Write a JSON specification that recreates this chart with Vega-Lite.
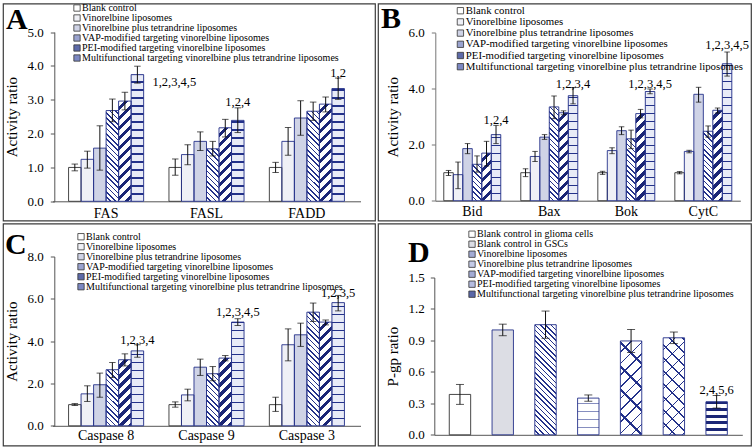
{
"$schema":"https://vega.github.io/schema/vega-lite/v6.json",
"padding":{"left":2,"top":1.5,"right":0,"bottom":0},
"params":[
{"name":"P1","value":[{"offset":0,"color":"transparent"},{"offset":0.028,"color":"transparent"},{"offset":0.028,"color":"#23318a"},{"offset":0.04,"color":"#23318a"},{"offset":0.04,"color":"transparent"},{"offset":0.068,"color":"transparent"},{"offset":0.068,"color":"#23318a"},{"offset":0.08,"color":"#23318a"},{"offset":0.08,"color":"transparent"},{"offset":0.108,"color":"transparent"},{"offset":0.108,"color":"#23318a"},{"offset":0.12,"color":"#23318a"},{"offset":0.12,"color":"transparent"},{"offset":0.148,"color":"transparent"},{"offset":0.148,"color":"#23318a"},{"offset":0.16,"color":"#23318a"},{"offset":0.16,"color":"transparent"},{"offset":0.188,"color":"transparent"},{"offset":0.188,"color":"#23318a"},{"offset":0.2,"color":"#23318a"},{"offset":0.2,"color":"transparent"},{"offset":0.228,"color":"transparent"},{"offset":0.228,"color":"#23318a"},{"offset":0.24,"color":"#23318a"},{"offset":0.24,"color":"transparent"},{"offset":0.268,"color":"transparent"},{"offset":0.268,"color":"#23318a"},{"offset":0.28,"color":"#23318a"},{"offset":0.28,"color":"transparent"},{"offset":0.308,"color":"transparent"},{"offset":0.308,"color":"#23318a"},{"offset":0.32,"color":"#23318a"},{"offset":0.32,"color":"transparent"},{"offset":0.348,"color":"transparent"},{"offset":0.348,"color":"#23318a"},{"offset":0.36,"color":"#23318a"},{"offset":0.36,"color":"transparent"},{"offset":0.388,"color":"transparent"},{"offset":0.388,"color":"#23318a"},{"offset":0.4,"color":"#23318a"},{"offset":0.4,"color":"transparent"},{"offset":0.428,"color":"transparent"},{"offset":0.428,"color":"#23318a"},{"offset":0.44,"color":"#23318a"},{"offset":0.44,"color":"transparent"},{"offset":0.468,"color":"transparent"},{"offset":0.468,"color":"#23318a"},{"offset":0.48,"color":"#23318a"},{"offset":0.48,"color":"transparent"},{"offset":0.508,"color":"transparent"},{"offset":0.508,"color":"#23318a"},{"offset":0.52,"color":"#23318a"},{"offset":0.52,"color":"transparent"},{"offset":0.548,"color":"transparent"},{"offset":0.548,"color":"#23318a"},{"offset":0.56,"color":"#23318a"},{"offset":0.56,"color":"transparent"},{"offset":0.588,"color":"transparent"},{"offset":0.588,"color":"#23318a"},{"offset":0.6,"color":"#23318a"},{"offset":0.6,"color":"transparent"},{"offset":0.628,"color":"transparent"},{"offset":0.628,"color":"#23318a"},{"offset":0.64,"color":"#23318a"},{"offset":0.64,"color":"transparent"},{"offset":0.668,"color":"transparent"},{"offset":0.668,"color":"#23318a"},{"offset":0.68,"color":"#23318a"},{"offset":0.68,"color":"transparent"},{"offset":0.708,"color":"transparent"},{"offset":0.708,"color":"#23318a"},{"offset":0.72,"color":"#23318a"},{"offset":0.72,"color":"transparent"},{"offset":0.748,"color":"transparent"},{"offset":0.748,"color":"#23318a"},{"offset":0.76,"color":"#23318a"},{"offset":0.76,"color":"transparent"},{"offset":0.788,"color":"transparent"},{"offset":0.788,"color":"#23318a"},{"offset":0.8,"color":"#23318a"},{"offset":0.8,"color":"transparent"},{"offset":0.828,"color":"transparent"},{"offset":0.828,"color":"#23318a"},{"offset":0.84,"color":"#23318a"},{"offset":0.84,"color":"transparent"},{"offset":0.868,"color":"transparent"},{"offset":0.868,"color":"#23318a"},{"offset":0.88,"color":"#23318a"},{"offset":0.88,"color":"transparent"},{"offset":0.908,"color":"transparent"},{"offset":0.908,"color":"#23318a"},{"offset":0.92,"color":"#23318a"},{"offset":0.92,"color":"transparent"},{"offset":0.948,"color":"transparent"},{"offset":0.948,"color":"#23318a"},{"offset":0.96,"color":"#23318a"},{"offset":0.96,"color":"transparent"},{"offset":0.988,"color":"transparent"},{"offset":0.988,"color":"#23318a"},{"offset":1,"color":"#23318a"},{"offset":1,"color":"transparent"}]},
{"name":"P2","value":[{"offset":0,"color":"transparent"},{"offset":0.0344,"color":"transparent"},{"offset":0.0344,"color":"#1b2676"},{"offset":0.0625,"color":"#1b2676"},{"offset":0.0625,"color":"transparent"},{"offset":0.0969,"color":"transparent"},{"offset":0.0969,"color":"#1b2676"},{"offset":0.125,"color":"#1b2676"},{"offset":0.125,"color":"transparent"},{"offset":0.1594,"color":"transparent"},{"offset":0.1594,"color":"#1b2676"},{"offset":0.1875,"color":"#1b2676"},{"offset":0.1875,"color":"transparent"},{"offset":0.2219,"color":"transparent"},{"offset":0.2219,"color":"#1b2676"},{"offset":0.25,"color":"#1b2676"},{"offset":0.25,"color":"transparent"},{"offset":0.2844,"color":"transparent"},{"offset":0.2844,"color":"#1b2676"},{"offset":0.3125,"color":"#1b2676"},{"offset":0.3125,"color":"transparent"},{"offset":0.3469,"color":"transparent"},{"offset":0.3469,"color":"#1b2676"},{"offset":0.375,"color":"#1b2676"},{"offset":0.375,"color":"transparent"},{"offset":0.4094,"color":"transparent"},{"offset":0.4094,"color":"#1b2676"},{"offset":0.4375,"color":"#1b2676"},{"offset":0.4375,"color":"transparent"},{"offset":0.4719,"color":"transparent"},{"offset":0.4719,"color":"#1b2676"},{"offset":0.5,"color":"#1b2676"},{"offset":0.5,"color":"transparent"},{"offset":0.5344,"color":"transparent"},{"offset":0.5344,"color":"#1b2676"},{"offset":0.5625,"color":"#1b2676"},{"offset":0.5625,"color":"transparent"},{"offset":0.5969,"color":"transparent"},{"offset":0.5969,"color":"#1b2676"},{"offset":0.625,"color":"#1b2676"},{"offset":0.625,"color":"transparent"},{"offset":0.6594,"color":"transparent"},{"offset":0.6594,"color":"#1b2676"},{"offset":0.6875,"color":"#1b2676"},{"offset":0.6875,"color":"transparent"},{"offset":0.7219,"color":"transparent"},{"offset":0.7219,"color":"#1b2676"},{"offset":0.75,"color":"#1b2676"},{"offset":0.75,"color":"transparent"},{"offset":0.7844,"color":"transparent"},{"offset":0.7844,"color":"#1b2676"},{"offset":0.8125,"color":"#1b2676"},{"offset":0.8125,"color":"transparent"},{"offset":0.8469,"color":"transparent"},{"offset":0.8469,"color":"#1b2676"},{"offset":0.875,"color":"#1b2676"},{"offset":0.875,"color":"transparent"},{"offset":0.9094,"color":"transparent"},{"offset":0.9094,"color":"#1b2676"},{"offset":0.9375,"color":"#1b2676"},{"offset":0.9375,"color":"transparent"},{"offset":0.9719,"color":"transparent"},{"offset":0.9719,"color":"#1b2676"},{"offset":1,"color":"#1b2676"},{"offset":1,"color":"transparent"}]},
{"name":"P3","value":[{"offset":0,"color":"transparent"},{"offset":0.04,"color":"transparent"},{"offset":0.04,"color":"#23318a"},{"offset":0.05,"color":"#23318a"},{"offset":0.05,"color":"transparent"},{"offset":0.09,"color":"transparent"},{"offset":0.09,"color":"#23318a"},{"offset":0.1,"color":"#23318a"},{"offset":0.1,"color":"transparent"},{"offset":0.14,"color":"transparent"},{"offset":0.14,"color":"#23318a"},{"offset":0.15,"color":"#23318a"},{"offset":0.15,"color":"transparent"},{"offset":0.19,"color":"transparent"},{"offset":0.19,"color":"#23318a"},{"offset":0.2,"color":"#23318a"},{"offset":0.2,"color":"transparent"},{"offset":0.24,"color":"transparent"},{"offset":0.24,"color":"#23318a"},{"offset":0.25,"color":"#23318a"},{"offset":0.25,"color":"transparent"},{"offset":0.29,"color":"transparent"},{"offset":0.29,"color":"#23318a"},{"offset":0.3,"color":"#23318a"},{"offset":0.3,"color":"transparent"},{"offset":0.34,"color":"transparent"},{"offset":0.34,"color":"#23318a"},{"offset":0.35,"color":"#23318a"},{"offset":0.35,"color":"transparent"},{"offset":0.39,"color":"transparent"},{"offset":0.39,"color":"#23318a"},{"offset":0.4,"color":"#23318a"},{"offset":0.4,"color":"transparent"},{"offset":0.44,"color":"transparent"},{"offset":0.44,"color":"#23318a"},{"offset":0.45,"color":"#23318a"},{"offset":0.45,"color":"transparent"},{"offset":0.49,"color":"transparent"},{"offset":0.49,"color":"#23318a"},{"offset":0.5,"color":"#23318a"},{"offset":0.5,"color":"transparent"},{"offset":0.54,"color":"transparent"},{"offset":0.54,"color":"#23318a"},{"offset":0.55,"color":"#23318a"},{"offset":0.55,"color":"transparent"},{"offset":0.59,"color":"transparent"},{"offset":0.59,"color":"#23318a"},{"offset":0.6,"color":"#23318a"},{"offset":0.6,"color":"transparent"},{"offset":0.64,"color":"transparent"},{"offset":0.64,"color":"#23318a"},{"offset":0.65,"color":"#23318a"},{"offset":0.65,"color":"transparent"},{"offset":0.69,"color":"transparent"},{"offset":0.69,"color":"#23318a"},{"offset":0.7,"color":"#23318a"},{"offset":0.7,"color":"transparent"},{"offset":0.74,"color":"transparent"},{"offset":0.74,"color":"#23318a"},{"offset":0.75,"color":"#23318a"},{"offset":0.75,"color":"transparent"},{"offset":0.79,"color":"transparent"},{"offset":0.79,"color":"#23318a"},{"offset":0.8,"color":"#23318a"},{"offset":0.8,"color":"transparent"},{"offset":0.84,"color":"transparent"},{"offset":0.84,"color":"#23318a"},{"offset":0.85,"color":"#23318a"},{"offset":0.85,"color":"transparent"},{"offset":0.89,"color":"transparent"},{"offset":0.89,"color":"#23318a"},{"offset":0.9,"color":"#23318a"},{"offset":0.9,"color":"transparent"},{"offset":0.94,"color":"transparent"},{"offset":0.94,"color":"#23318a"},{"offset":0.95,"color":"#23318a"},{"offset":0.95,"color":"transparent"},{"offset":0.99,"color":"transparent"},{"offset":0.99,"color":"#23318a"},{"offset":1,"color":"#23318a"},{"offset":1,"color":"transparent"}]},
{"name":"P6","value":[{"offset":0,"color":"transparent"},{"offset":0.087,"color":"transparent"},{"offset":0.087,"color":"#23318a"},{"offset":0.1,"color":"#23318a"},{"offset":0.1,"color":"transparent"},{"offset":0.187,"color":"transparent"},{"offset":0.187,"color":"#23318a"},{"offset":0.2,"color":"#23318a"},{"offset":0.2,"color":"transparent"},{"offset":0.287,"color":"transparent"},{"offset":0.287,"color":"#23318a"},{"offset":0.3,"color":"#23318a"},{"offset":0.3,"color":"transparent"},{"offset":0.387,"color":"transparent"},{"offset":0.387,"color":"#23318a"},{"offset":0.4,"color":"#23318a"},{"offset":0.4,"color":"transparent"},{"offset":0.487,"color":"transparent"},{"offset":0.487,"color":"#23318a"},{"offset":0.5,"color":"#23318a"},{"offset":0.5,"color":"transparent"},{"offset":0.587,"color":"transparent"},{"offset":0.587,"color":"#23318a"},{"offset":0.6,"color":"#23318a"},{"offset":0.6,"color":"transparent"},{"offset":0.687,"color":"transparent"},{"offset":0.687,"color":"#23318a"},{"offset":0.7,"color":"#23318a"},{"offset":0.7,"color":"transparent"},{"offset":0.787,"color":"transparent"},{"offset":0.787,"color":"#23318a"},{"offset":0.8,"color":"#23318a"},{"offset":0.8,"color":"transparent"},{"offset":0.887,"color":"transparent"},{"offset":0.887,"color":"#23318a"},{"offset":0.9,"color":"#23318a"},{"offset":0.9,"color":"transparent"},{"offset":0.987,"color":"transparent"},{"offset":0.987,"color":"#23318a"},{"offset":1,"color":"#23318a"},{"offset":1,"color":"transparent"}]}
],
"datasets":{
"A":[
{"g":"FAS","k":1,"s":"Blank control","v":1.0,"lo":0.9,"hi":1.1},
{"g":"FAS","k":2,"s":"Vinorelbine liposomes","v":1.24,"lo":0.98,"hi":1.48},
{"g":"FAS","k":3,"s":"Vinorelbine plus tetrandrine liposomes","v":1.57,"lo":0.92,"hi":2.23},
{"g":"FAS","k":4,"s":"VAP-modified targeting vinorelbine liposomes","v":2.68,"lo":2.35,"hi":3.02},
{"g":"FAS","k":5,"s":"PEI-modified targeting vinorelbine liposomes","v":2.96,"lo":2.7,"hi":3.22},
{"g":"FAS","k":6,"s":"Multifunctional targeting vinorelbine plus tetrandrine liposomes","v":3.74,"lo":3.49,"hi":3.99},
{"g":"FASL","k":1,"s":"Blank control","v":1.0,"lo":0.77,"hi":1.25},
{"g":"FASL","k":2,"s":"Vinorelbine liposomes","v":1.38,"lo":1.08,"hi":1.67},
{"g":"FASL","k":3,"s":"Vinorelbine plus tetrandrine liposomes","v":1.77,"lo":1.5,"hi":2.05},
{"g":"FASL","k":4,"s":"VAP-modified targeting vinorelbine liposomes","v":1.55,"lo":1.34,"hi":1.77},
{"g":"FASL","k":5,"s":"PEI-modified targeting vinorelbine liposomes","v":2.17,"lo":1.9,"hi":2.42},
{"g":"FASL","k":6,"s":"Multifunctional targeting vinorelbine plus tetrandrine liposomes","v":2.39,"lo":2.03,"hi":2.76},
{"g":"FADD","k":1,"s":"Blank control","v":1.0,"lo":0.85,"hi":1.15},
{"g":"FADD","k":2,"s":"Vinorelbine liposomes","v":1.77,"lo":1.36,"hi":2.18},
{"g":"FADD","k":3,"s":"Vinorelbine plus tetrandrine liposomes","v":2.46,"lo":1.95,"hi":2.97},
{"g":"FADD","k":4,"s":"VAP-modified targeting vinorelbine liposomes","v":2.66,"lo":2.39,"hi":2.93},
{"g":"FADD","k":5,"s":"PEI-modified targeting vinorelbine liposomes","v":2.87,"lo":2.64,"hi":3.08},
{"g":"FADD","k":6,"s":"Multifunctional targeting vinorelbine plus tetrandrine liposomes","v":3.33,"lo":3.01,"hi":3.64}
],
"B":[
{"g":"Bid","k":1,"s":"Blank control","v":1.0,"lo":0.9,"hi":1.08},
{"g":"Bid","k":2,"s":"Vinorelbine liposomes","v":0.93,"lo":0.43,"hi":1.38},
{"g":"Bid","k":3,"s":"Vinorelbine plus tetrandrine liposomes","v":1.86,"lo":1.68,"hi":2.04},
{"g":"Bid","k":4,"s":"VAP-modified targeting vinorelbine liposomes","v":1.3,"lo":1.02,"hi":1.6},
{"g":"Bid","k":5,"s":"PEI-modified targeting vinorelbine liposomes","v":1.7,"lo":1.24,"hi":2.12},
{"g":"Bid","k":6,"s":"Multifunctional targeting vinorelbine plus tetrandrine liposomes","v":2.36,"lo":2.04,"hi":2.69},
{"g":"Bax","k":1,"s":"Blank control","v":1.0,"lo":0.86,"hi":1.14},
{"g":"Bax","k":2,"s":"Vinorelbine liposomes","v":1.58,"lo":1.4,"hi":1.76},
{"g":"Bax","k":3,"s":"Vinorelbine plus tetrandrine liposomes","v":2.27,"lo":2.19,"hi":2.36},
{"g":"Bax","k":4,"s":"VAP-modified targeting vinorelbine liposomes","v":3.35,"lo":2.93,"hi":3.74},
{"g":"Bax","k":5,"s":"PEI-modified targeting vinorelbine liposomes","v":3.14,"lo":3.07,"hi":3.21},
{"g":"Bax","k":6,"s":"Multifunctional targeting vinorelbine plus tetrandrine liposomes","v":3.75,"lo":3.46,"hi":4.04},
{"g":"Bok","k":1,"s":"Blank control","v":1.0,"lo":0.94,"hi":1.05},
{"g":"Bok","k":2,"s":"Vinorelbine liposomes","v":1.79,"lo":1.68,"hi":1.89},
{"g":"Bok","k":3,"s":"Vinorelbine plus tetrandrine liposomes","v":2.5,"lo":2.36,"hi":2.64},
{"g":"Bok","k":4,"s":"VAP-modified targeting vinorelbine liposomes","v":2.21,"lo":1.86,"hi":2.52},
{"g":"Bok","k":5,"s":"PEI-modified targeting vinorelbine liposomes","v":3.11,"lo":2.96,"hi":3.26},
{"g":"Bok","k":6,"s":"Multifunctional targeting vinorelbine plus tetrandrine liposomes","v":3.9,"lo":3.82,"hi":3.99},
{"g":"CytC","k":1,"s":"Blank control","v":1.0,"lo":0.96,"hi":1.04},
{"g":"CytC","k":2,"s":"Vinorelbine liposomes","v":1.76,"lo":1.71,"hi":1.8},
{"g":"CytC","k":3,"s":"Vinorelbine plus tetrandrine liposomes","v":3.8,"lo":3.52,"hi":4.05},
{"g":"CytC","k":4,"s":"VAP-modified targeting vinorelbine liposomes","v":2.48,"lo":2.27,"hi":2.67},
{"g":"CytC","k":5,"s":"PEI-modified targeting vinorelbine liposomes","v":3.23,"lo":3.13,"hi":3.31},
{"g":"CytC","k":6,"s":"Multifunctional targeting vinorelbine plus tetrandrine liposomes","v":4.89,"lo":4.45,"hi":5.31}
],
"C":[
{"g":"Caspase 8","k":1,"s":"Blank control","v":1.0,"lo":0.96,"hi":1.05},
{"g":"Caspase 8","k":2,"s":"Vinorelbine liposomes","v":1.51,"lo":1.15,"hi":1.89},
{"g":"Caspase 8","k":3,"s":"Vinorelbine plus tetrandrine liposomes","v":1.94,"lo":1.35,"hi":2.49},
{"g":"Caspase 8","k":4,"s":"VAP-modified targeting vinorelbine liposomes","v":2.65,"lo":2.28,"hi":2.99},
{"g":"Caspase 8","k":5,"s":"PEI-modified targeting vinorelbine liposomes","v":3.12,"lo":2.83,"hi":3.4},
{"g":"Caspase 8","k":6,"s":"Multifunctional targeting vinorelbine plus tetrandrine liposomes","v":3.54,"lo":3.24,"hi":3.83},
{"g":"Caspase 9","k":1,"s":"Blank control","v":1.0,"lo":0.88,"hi":1.13},
{"g":"Caspase 9","k":2,"s":"Vinorelbine liposomes","v":1.46,"lo":1.18,"hi":1.73},
{"g":"Caspase 9","k":3,"s":"Vinorelbine plus tetrandrine liposomes","v":2.77,"lo":2.38,"hi":3.15},
{"g":"Caspase 9","k":4,"s":"VAP-modified targeting vinorelbine liposomes","v":2.46,"lo":2.13,"hi":2.8},
{"g":"Caspase 9","k":5,"s":"PEI-modified targeting vinorelbine liposomes","v":3.2,"lo":3.07,"hi":3.32},
{"g":"Caspase 9","k":6,"s":"Multifunctional targeting vinorelbine plus tetrandrine liposomes","v":4.9,"lo":4.74,"hi":5.06},
{"g":"Caspase 3","k":1,"s":"Blank control","v":1.0,"lo":0.68,"hi":1.35},
{"g":"Caspase 3","k":2,"s":"Vinorelbine liposomes","v":3.83,"lo":3.07,"hi":4.58},
{"g":"Caspase 3","k":3,"s":"Vinorelbine plus tetrandrine liposomes","v":4.3,"lo":3.75,"hi":4.85},
{"g":"Caspase 3","k":4,"s":"VAP-modified targeting vinorelbine liposomes","v":5.37,"lo":4.93,"hi":5.8},
{"g":"Caspase 3","k":5,"s":"PEI-modified targeting vinorelbine liposomes","v":4.9,"lo":4.77,"hi":5.0},
{"g":"Caspase 3","k":6,"s":"Multifunctional targeting vinorelbine plus tetrandrine liposomes","v":5.82,"lo":5.43,"hi":6.16}
],
"D":[
{"k":1,"s":"Blank control in glioma cells","v":0.385,"lo":0.29,"hi":0.48},
{"k":2,"s":"Blank control in GSCs","v":1.0,"lo":0.945,"hi":1.055},
{"k":3,"s":"Vinorelbine liposomes","v":1.05,"lo":0.92,"hi":1.18},
{"k":4,"s":"Vinorelbine plus tetrandrine liposomes","v":0.35,"lo":0.32,"hi":0.38},
{"k":5,"s":"VAP-modified targeting vinorelbine liposomes","v":0.895,"lo":0.785,"hi":1.005},
{"k":6,"s":"PEI-modified targeting vinorelbine liposomes","v":0.925,"lo":0.87,"hi":0.98},
{"k":7,"s":"Multifunctional targeting vinorelbine plus tetrandrine liposomes","v":0.315,"lo":0.255,"hi":0.375}
]
},
"spacing":1,
"resolve":{"scale":{"fill":"independent","xOffset":"independent"},"legend":{"fill":"independent"}},
"vconcat":[
{"hconcat":[
{
"width":372,"height":217,
"data":{"name":"A"},
"encoding":{
"x":{"field":"g","type":"nominal","sort":["FAS","FASL","FADD"],"scale":{"domain":["FAS","FASL","FADD"],"range":[49.5,357.5],"paddingInner":0.252,"paddingOuter":0.16},"axis":{"title":null,"labelAngle":0,"labelFont":"Liberation Serif","labelFontSize":14,"labelColor":"#000","labelPadding":5,"ticks":false,"tickSize":0,"domainColor":"#555","offset":-19.2}},
"xOffset":{"field":"s","type":"nominal","scale":{"domain":["Blank control","Vinorelbine liposomes","Vinorelbine plus tetrandrine liposomes","VAP-modified targeting vinorelbine liposomes","PEI-modified targeting vinorelbine liposomes","Multifunctional targeting vinorelbine plus tetrandrine liposomes"],"paddingInner":0,"paddingOuter":0}},
"y":{"field":"v","type":"quantitative","scale":{"domain":[0,5],"range":[197.8,28.5],"nice":false},"axis":{"title":"Activity ratio","values":[0,1,2,3,4,5],"format":".1f","labelFont":"Liberation Serif","labelFontSize":13,"labelColor":"#000","labelPadding":7,"tickSize":4,"tickColor":"#555","domainColor":"#555","titleFont":"Liberation Serif","titleFontSize":15,"titleFontWeight":"normal","titleColor":"#000","titlePadding":8,"grid":false,"offset":-51.3}}
},
"layer":[
{"mark":{"type":"bar","strokeWidth":0},"encoding":{"fill":{"field":"s","type":"nominal","scale":{"domain":["Blank control","Vinorelbine liposomes","Vinorelbine plus tetrandrine liposomes","VAP-modified targeting vinorelbine liposomes","PEI-modified targeting vinorelbine liposomes","Multifunctional targeting vinorelbine plus tetrandrine liposomes"],"range":["#ffffff","#eff0f6","#cfd3e6","#9aa3cf","#5d6aa8","#7c88c2"]},"legend":{"orient":"none","legendX":69,"legendY":-0.5,"title":null,"symbolType":"square","symbolSize":40,"symbolStrokeColor":"#333","symbolStrokeWidth":0.8,"labelFont":"Liberation Serif","labelFontSize":10,"labelColor":"#000","labelLimit":400,"labelOffset":0,"rowPadding":0,"padding":0}}}},
{"transform":[{"filter":"datum.k>=4"}],"mark":{"type":"bar","strokeWidth":0},"encoding":{"fill":{"condition":{"test":"datum.k==6","value":"#e8ebf7"},"value":"#ffffff"}}},
{"transform":[{"filter":"datum.k==4"}],"mark":{"type":"bar","strokeWidth":0,"fill":{"expr":"{gradient:'linear',x1:0,y1:1,x2:1650/(156.25+pow(datum.v*33.86,2)),y2:1-132*datum.v*33.86/(156.25+pow(datum.v*33.86,2)),stops:P1}"}}},
{"transform":[{"filter":"datum.k==5"}],"mark":{"type":"bar","strokeWidth":0,"fill":{"expr":"{gradient:'linear',x1:0,y1:0,x2:2000/(156.25+pow(datum.v*33.86,2)),y2:160*datum.v*33.86/(156.25+pow(datum.v*33.86,2)),stops:P2}"}}},
{"transform":[{"filter":"datum.k==6"}],"mark":{"type":"bar","strokeWidth":0,"fill":{"expr":"{gradient:'linear',x1:0,y1:1,x2:0,y2:1-160/(datum.v*33.86),stops:P3}"}}},
{"mark":{"type":"bar","fillOpacity":0,"strokeWidth":0.9},"encoding":{"stroke":{"condition":{"test":"datum.k==1","value":"#333333"},"value":"#26328a"}}},
{"mark":{"type":"rule","color":"#111","strokeWidth":1},"encoding":{"y":{"field":"lo","type":"quantitative"},"y2":{"field":"hi"}}},
{"mark":{"type":"tick","color":"#111","thickness":1,"size":6.5},"encoding":{"y":{"field":"lo","type":"quantitative"}}},
{"mark":{"type":"tick","color":"#111","thickness":1,"size":6.5},"encoding":{"y":{"field":"hi","type":"quantitative"}}},
{"data":{"values":[{"g":"FASL","s":"Multifunctional targeting vinorelbine plus tetrandrine liposomes","t":"1,2,4","ty":2.94},{"g":"FADD","s":"Multifunctional targeting vinorelbine plus tetrandrine liposomes","t":"1,2","ty":3.8}]},"mark":{"type":"text","font":"Liberation Serif","fontSize":12.5,"baseline":"middle","align":"center","color":"#000"},"encoding":{"y":{"field":"ty","type":"quantitative"},"text":{"field":"t"}}},
{"data":{"values":[{"g":"FAS","s":"Multifunctional targeting vinorelbine plus tetrandrine liposomes","t":"1,2,3,4,5","ty":3.53}]},"mark":{"type":"text","font":"Liberation Serif","fontSize":12.5,"baseline":"middle","align":"left","dx":15,"color":"#000"},"encoding":{"y":{"field":"ty","type":"quantitative"},"text":{"field":"t"}}},
{"data":{"values":[{"g":"FAS","s":"Blank control","t":"A","ty":5.1}]},"mark":{"type":"text","font":"Liberation Serif","fontSize":30,"fontWeight":"bold","baseline":"alphabetic","align":"left","dx":-68.8,"color":"#000"},"encoding":{"y":{"field":"ty","type":"quantitative"},"text":{"field":"t"}}}
]
},
{
"width":373,"height":217,
"data":{"name":"B"},
"encoding":{
"x":{"field":"g","type":"nominal","sort":["Bid","Bax","Bok","CytC"],"scale":{"domain":["Bid","Bax","Bok","CytC"],"range":[57.3,362.3],"paddingInner":0.26,"paddingOuter":0.11},"axis":{"title":null,"labelAngle":0,"labelFont":"Liberation Serif","labelFontSize":14,"labelColor":"#000","labelPadding":4,"ticks":false,"tickSize":0,"domainColor":"#555","offset":-19.8}},
"xOffset":{"field":"s","type":"nominal","scale":{"domain":["Blank control","Vinorelbine liposomes","Vinorelbine plus tetrandrine liposomes","VAP-modified targeting vinorelbine liposomes","PEI-modified targeting vinorelbine liposomes","Multifunctional targeting vinorelbine plus tetrandrine liposomes"],"paddingInner":0,"paddingOuter":0}},
"y":{"field":"v","type":"quantitative","scale":{"domain":[0,6],"range":[197.2,29.2],"nice":false},"axis":{"title":"Activity ratio","values":[0,2,4,6],"format":".1f","labelFont":"Liberation Serif","labelFontSize":13,"labelColor":"#000","labelPadding":7,"tickSize":4,"tickColor":"#777","domainColor":"#777","titleFont":"Liberation Serif","titleFontSize":15,"titleFontWeight":"normal","titleColor":"#000","titlePadding":8,"grid":false,"offset":-57.3}}
},
"layer":[
{"mark":{"type":"bar","strokeWidth":0},"encoding":{"fill":{"field":"s","type":"nominal","scale":{"domain":["Blank control","Vinorelbine liposomes","Vinorelbine plus tetrandrine liposomes","VAP-modified targeting vinorelbine liposomes","PEI-modified targeting vinorelbine liposomes","Multifunctional targeting vinorelbine plus tetrandrine liposomes"],"range":["#ffffff","#eff0f6","#cfd3e6","#9aa3cf","#5d6aa8","#7c88c2"]},"legend":{"orient":"none","legendX":77,"legendY":1.8,"title":null,"symbolType":"square","symbolSize":40,"symbolStrokeColor":"#333","symbolStrokeWidth":0.8,"labelFont":"Liberation Serif","labelFontSize":10.8,"labelColor":"#000","labelLimit":400,"labelOffset":0,"rowPadding":-0.8,"padding":0}}}},
{"transform":[{"filter":"datum.k>=4"}],"mark":{"type":"bar","strokeWidth":0},"encoding":{"fill":{"condition":{"test":"datum.k==6","value":"#e8ebf7"},"value":"#ffffff"}}},
{"transform":[{"filter":"datum.k==4"}],"mark":{"type":"bar","strokeWidth":0,"fill":{"expr":"{gradient:'linear',x1:0,y1:1,x2:1254/(90.25+pow(datum.v*28,2)),y2:1-132*datum.v*28/(90.25+pow(datum.v*28,2)),stops:P1}"}}},
{"transform":[{"filter":"datum.k==5"}],"mark":{"type":"bar","strokeWidth":0,"fill":{"expr":"{gradient:'linear',x1:0,y1:0,x2:1520/(90.25+pow(datum.v*28,2)),y2:160*datum.v*28/(90.25+pow(datum.v*28,2)),stops:P2}"}}},
{"transform":[{"filter":"datum.k==6"}],"mark":{"type":"bar","strokeWidth":0,"fill":{"expr":"{gradient:'linear',x1:0,y1:1,x2:0,y2:1-160/(datum.v*28),stops:P3}"}}},
{"mark":{"type":"bar","fillOpacity":0,"strokeWidth":0.9},"encoding":{"stroke":{"condition":{"test":"datum.k==1","value":"#333333"},"value":"#26328a"}}},
{"mark":{"type":"rule","color":"#111","strokeWidth":1},"encoding":{"y":{"field":"lo","type":"quantitative"},"y2":{"field":"hi"}}},
{"mark":{"type":"tick","color":"#111","thickness":1,"size":5.5},"encoding":{"y":{"field":"lo","type":"quantitative"}}},
{"mark":{"type":"tick","color":"#111","thickness":1,"size":5.5},"encoding":{"y":{"field":"hi","type":"quantitative"}}},
{"data":{"values":[{"g":"Bid","s":"Multifunctional targeting vinorelbine plus tetrandrine liposomes","t":"1,2,4","ty":2.87},{"g":"Bax","s":"Multifunctional targeting vinorelbine plus tetrandrine liposomes","t":"1,2,3,4","ty":4.18},{"g":"Bok","s":"Multifunctional targeting vinorelbine plus tetrandrine liposomes","t":"1,2,3,4,5","ty":4.18},{"g":"CytC","s":"Multifunctional targeting vinorelbine plus tetrandrine liposomes","t":"1,2,3,4,5","ty":5.55}]},"mark":{"type":"text","font":"Liberation Serif","fontSize":12.5,"baseline":"middle","align":"center","color":"#000"},"encoding":{"y":{"field":"ty","type":"quantitative"},"text":{"field":"t"}}},
{"data":{"values":[{"g":"Bid","s":"Blank control","t":"B","ty":6.17}]},"mark":{"type":"text","font":"Liberation Serif","fontSize":30,"fontWeight":"bold","baseline":"alphabetic","align":"left","dx":-67.5,"color":"#000"},"encoding":{"y":{"field":"ty","type":"quantitative"},"text":{"field":"t"}}}
]
}
],"spacing":3,"bounds":"flush","resolve":{"scale":{"fill":"independent","xOffset":"independent"},"legend":{"fill":"independent"}}},
{"hconcat":[
{
"width":372,"height":222,
"data":{"name":"C"},
"encoding":{
"x":{"field":"g","type":"nominal","sort":["Caspase 8","Caspase 9","Caspase 3"],"scale":{"domain":["Caspase 8","Caspase 9","Caspase 3"],"range":[49.5,357.5],"paddingInner":0.252,"paddingOuter":0.16},"axis":{"title":null,"labelAngle":0,"labelFont":"Liberation Serif","labelFontSize":14,"labelColor":"#000","labelPadding":3,"ticks":false,"tickSize":0,"domainColor":"#555","offset":-19.7}},
"xOffset":{"field":"s","type":"nominal","scale":{"domain":["Blank control","Vinorelbine liposomes","Vinorelbine plus tetrandrine liposomes","VAP-modified targeting vinorelbine liposomes","PEI-modified targeting vinorelbine liposomes","Multifunctional targeting vinorelbine plus tetrandrine liposomes"],"paddingInner":0,"paddingOuter":0}},
"y":{"field":"v","type":"quantitative","scale":{"domain":[0,8],"range":[202.3,33],"nice":false},"axis":{"title":"Activity ratio","values":[0,2,4,6,8],"format":".1f","labelFont":"Liberation Serif","labelFontSize":13,"labelColor":"#000","labelPadding":7,"tickSize":4,"tickColor":"#555","domainColor":"#555","titleFont":"Liberation Serif","titleFontSize":15,"titleFontWeight":"normal","titleColor":"#000","titlePadding":8,"grid":false,"offset":-51.3}}
},
"layer":[
{"mark":{"type":"bar","strokeWidth":0},"encoding":{"fill":{"field":"s","type":"nominal","scale":{"domain":["Blank control","Vinorelbine liposomes","Vinorelbine plus tetrandrine liposomes","VAP-modified targeting vinorelbine liposomes","PEI-modified targeting vinorelbine liposomes","Multifunctional targeting vinorelbine plus tetrandrine liposomes"],"range":["#ffffff","#eff0f6","#cfd3e6","#9aa3cf","#5d6aa8","#7c88c2"]},"legend":{"orient":"none","legendX":73,"legendY":8.2,"title":null,"symbolType":"square","symbolSize":40,"symbolStrokeColor":"#333","symbolStrokeWidth":0.8,"labelFont":"Liberation Serif","labelFontSize":10,"labelColor":"#000","labelLimit":400,"labelOffset":0,"rowPadding":-0.5,"padding":0}}}},
{"transform":[{"filter":"datum.k>=4"}],"mark":{"type":"bar","strokeWidth":0},"encoding":{"fill":{"condition":{"test":"datum.k==6","value":"#e8ebf7"},"value":"#ffffff"}}},
{"transform":[{"filter":"datum.k==4"}],"mark":{"type":"bar","strokeWidth":0,"fill":{"expr":"{gradient:'linear',x1:0,y1:1,x2:1650/(156.25+pow(datum.v*21.16,2)),y2:1-132*datum.v*21.16/(156.25+pow(datum.v*21.16,2)),stops:P1}"}}},
{"transform":[{"filter":"datum.k==5"}],"mark":{"type":"bar","strokeWidth":0,"fill":{"expr":"{gradient:'linear',x1:0,y1:0,x2:2000/(156.25+pow(datum.v*21.16,2)),y2:160*datum.v*21.16/(156.25+pow(datum.v*21.16,2)),stops:P2}"}}},
{"transform":[{"filter":"datum.k==6"}],"mark":{"type":"bar","strokeWidth":0,"fill":{"expr":"{gradient:'linear',x1:0,y1:1,x2:0,y2:1-160/(datum.v*21.16),stops:P3}"}}},
{"mark":{"type":"bar","fillOpacity":0,"strokeWidth":0.9},"encoding":{"stroke":{"condition":{"test":"datum.k==1","value":"#333333"},"value":"#26328a"}}},
{"mark":{"type":"rule","color":"#111","strokeWidth":1},"encoding":{"y":{"field":"lo","type":"quantitative"},"y2":{"field":"hi"}}},
{"mark":{"type":"tick","color":"#111","thickness":1,"size":6.5},"encoding":{"y":{"field":"lo","type":"quantitative"}}},
{"mark":{"type":"tick","color":"#111","thickness":1,"size":6.5},"encoding":{"y":{"field":"hi","type":"quantitative"}}},
{"data":{"values":[{"g":"Caspase 8","s":"Multifunctional targeting vinorelbine plus tetrandrine liposomes","t":"1,2,3,4","ty":4.06},{"g":"Caspase 9","s":"Multifunctional targeting vinorelbine plus tetrandrine liposomes","t":"1,2,3,4,5","ty":5.36},{"g":"Caspase 3","s":"Multifunctional targeting vinorelbine plus tetrandrine liposomes","t":"1,2,3,5","ty":6.29}]},"mark":{"type":"text","font":"Liberation Serif","fontSize":12.5,"baseline":"middle","align":"center","color":"#000"},"encoding":{"y":{"field":"ty","type":"quantitative"},"text":{"field":"t"}}},
{"data":{"values":[{"g":"Caspase 8","s":"Blank control","t":"C","ty":8.1}]},"mark":{"type":"text","font":"Liberation Serif","fontSize":30,"fontWeight":"bold","baseline":"alphabetic","align":"left","dx":-69.8,"color":"#000"},"encoding":{"y":{"field":"ty","type":"quantitative"},"text":{"field":"t"}}}
]
},
{
"width":373,"height":222,
"data":{"name":"D"},
"encoding":{
"x":{"field":"s","type":"nominal","sort":["Blank control in glioma cells","Blank control in GSCs","Vinorelbine liposomes","Vinorelbine plus tetrandrine liposomes","VAP-modified targeting vinorelbine liposomes","PEI-modified targeting vinorelbine liposomes","Multifunctional targeting vinorelbine plus tetrandrine liposomes"],"scale":{"domain":["Blank control in glioma cells","Blank control in GSCs","Vinorelbine liposomes","Vinorelbine plus tetrandrine liposomes","VAP-modified targeting vinorelbine liposomes","PEI-modified targeting vinorelbine liposomes","Multifunctional targeting vinorelbine plus tetrandrine liposomes"],"range":[56.3,364.3],"paddingInner":0.5,"paddingOuter":0.35},"axis":{"title":null,"labels":false,"ticks":false,"tickSize":0,"domainColor":"#555","offset":-10.7}},
"y":{"field":"v","type":"quantitative","scale":{"domain":[0,1.5],"range":[211.3,54],"nice":false},"axis":{"title":"P-gp  ratio","values":[0,0.3,0.6,0.9,1.2,1.5],"format":".1f","labelFont":"Liberation Serif","labelFontSize":13,"labelColor":"#000","labelPadding":6,"tickSize":4,"tickColor":"#555","domainColor":"#555","titleFont":"Liberation Serif","titleFontSize":15,"titleFontWeight":"normal","titleColor":"#000","titlePadding":8,"grid":false,"offset":-56.3}}
},
"layer":[
{"mark":{"type":"bar","strokeWidth":0},"encoding":{"fill":{"field":"s","type":"nominal","scale":{"domain":["Blank control in glioma cells","Blank control in GSCs","Vinorelbine liposomes","Vinorelbine plus tetrandrine liposomes","VAP-modified targeting vinorelbine liposomes","PEI-modified targeting vinorelbine liposomes","Multifunctional targeting vinorelbine plus tetrandrine liposomes"],"range":["#ffffff","#dcdde4","#a3abd4","#c4cae6","#a3abd4","#b5bce0","#5a67a8"]},"legend":{"orient":"none","legendX":89,"legendY":5.7,"title":null,"symbolType":"square","symbolSize":40,"symbolStrokeColor":"#333","symbolStrokeWidth":0.8,"labelFont":"Liberation Serif","labelFontSize":10,"labelColor":"#000","labelLimit":400,"labelOffset":0,"rowPadding":0,"padding":0}}}},
{"transform":[{"filter":"datum.k>=3"}],"mark":{"type":"bar","strokeWidth":0,"fill":"#ffffff"}},
{"transform":[{"filter":"datum.k==3||datum.k==5||datum.k==6"}],"mark":{"type":"bar","strokeWidth":0,"fill":{"expr":"{gradient:'linear',x1:0,y1:1,x2:(datum.k==3?132:datum.k==5?234:130)*21.4/(457.96+pow(datum.v*104.9,2)),y2:1-(datum.k==3?132:datum.k==5?234:130)*datum.v*104.9/(457.96+pow(datum.v*104.9,2)),stops:datum.k==3?P1:P6}"}}},
{"transform":[{"filter":"datum.k==5||datum.k==6"}],"mark":{"type":"bar","strokeWidth":0,"fill":{"expr":"{gradient:'linear',x1:0,y1:0,x2:(datum.k==5?117:130)*21.4/(457.96+pow(datum.v*104.9,2)),y2:(datum.k==5?117:130)*datum.v*104.9/(457.96+pow(datum.v*104.9,2)),stops:P6}"}}},
{"transform":[{"filter":"datum.k==4||datum.k==7"}],"mark":{"type":"bar","strokeWidth":0,"fill":{"expr":"{gradient:'linear',x1:0,y1:1,x2:0,y2:1-(datum.k==4?160:107)/(datum.v*104.9),stops:datum.k==4?P3:P2}"}},"encoding":{"fillOpacity":{"condition":{"test":"datum.k==4","value":0.55},"value":1}}},
{"mark":{"type":"bar","fillOpacity":0,"strokeWidth":0.9},"encoding":{"stroke":{"condition":{"test":"datum.k==1","value":"#333333"},"value":"#26328a"}}},
{"mark":{"type":"rule","color":"#111","strokeWidth":1},"encoding":{"y":{"field":"lo","type":"quantitative"},"y2":{"field":"hi"}}},
{"mark":{"type":"tick","color":"#111","thickness":1,"size":8},"encoding":{"y":{"field":"lo","type":"quantitative"}}},
{"mark":{"type":"tick","color":"#111","thickness":1,"size":8},"encoding":{"y":{"field":"hi","type":"quantitative"}}},
{"data":{"values":[{"s":"Multifunctional targeting vinorelbine plus tetrandrine liposomes","t":"2,4,5,6","ty":0.43}]},"mark":{"type":"text","font":"Liberation Serif","fontSize":12.5,"baseline":"middle","align":"center","color":"#000"},"encoding":{"y":{"field":"ty","type":"quantitative"},"text":{"field":"t"}}},
{"data":{"values":[{"s":"Blank control in glioma cells","t":"D","ty":1.652}]},"mark":{"type":"text","font":"Liberation Serif","fontSize":30,"fontWeight":"bold","baseline":"alphabetic","align":"left","dx":-52,"color":"#000"},"encoding":{"y":{"field":"ty","type":"quantitative"},"text":{"field":"t"}}}
]
}
],"spacing":3,"bounds":"flush","resolve":{"scale":{"fill":"independent","xOffset":"independent"},"legend":{"fill":"independent"}}}
],
"config":{"view":{"stroke":"#3c3c3c","strokeWidth":1.2},"font":"Liberation Serif","background":"#ffffff"}
}
